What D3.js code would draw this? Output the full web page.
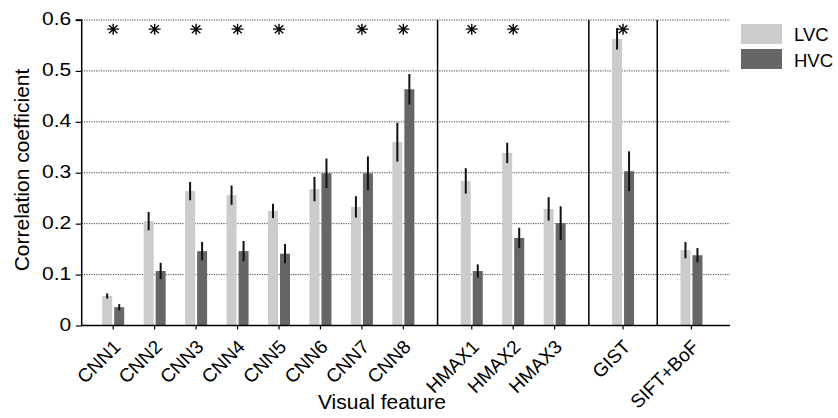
<!DOCTYPE html>
<html>
<head>
<meta charset="utf-8">
<script src="https://cdn.jsdelivr.net/npm/d3@7"></script>
<style>
  html, body { margin: 0; padding: 0; background: #fff; }
  svg { display: block; font-family: "Liberation Sans", Arial, Helvetica, sans-serif; }
</style>
</head>
<body>
<svg id="chart" width="838" height="418"></svg>
<script>
const categories = ["CNN1","CNN2","CNN3","CNN4","CNN5","CNN6","CNN7","CNN8","HMAX1","HMAX2","HMAX3","GIST","SIFT+BoF"];
const groupOf    = [0,0,0,0,0,0,0,0,1,1,1,2,3];
const lvc    = [0.058,0.205,0.264,0.256,0.225,0.268,0.233,0.360,0.284,0.339,0.229,0.563,0.148];
const lvcErr = [0.005,0.018,0.018,0.019,0.014,0.024,0.021,0.038,0.025,0.020,0.023,0.021,0.016];
const hvc    = [0.036,0.107,0.146,0.146,0.141,0.299,0.299,0.464,0.107,0.172,0.201,0.303,0.138];
const hvcErr = [0.006,0.016,0.018,0.020,0.019,0.029,0.033,0.030,0.013,0.020,0.033,0.039,0.014];
const significant = [1,1,1,1,1,0,1,1,1,1,0,1,0];
const yTicks = [0,0.1,0.2,0.3,0.4,0.5,0.6];
const seriesNames = ["LVC","HVC"];
const seriesColors = ["#cccccc","#666666"];

(function () {
const svg = d3.select("#chart");
const pLeft = 81.7, pRight = 730, pTop = 20, pBottom = 325.5;
const groupGap = 0.65;
const pos = categories.map((c,i) => i + groupOf[i]*groupGap);
const stretch = 1.17;

const x = d3.scaleLinear().domain([-0.76, 14.88]).range([pLeft, pRight]);
const y = d3.scaleLinear().domain([0, 0.6]).range([pBottom, pTop]);
const barW = 10, off = 6;

// gridlines
svg.append("g").selectAll("line").data(yTicks.filter(d => d > 0)).join("line")
  .attr("x1", pLeft).attr("x2", pRight)
  .attr("y1", d => y(d)).attr("y2", d => y(d))
  .attr("stroke", "#444").attr("stroke-width", 1).attr("stroke-dasharray", "1.2,1.2");

// group separators
const seps = [];
for (let i = 1; i < categories.length; i++) {
  if (groupOf[i] !== groupOf[i-1]) seps.push((pos[i] + pos[i-1]) / 2);
}
svg.append("g").selectAll("line").data(seps).join("line")
  .attr("x1", d => x(d)).attr("x2", d => x(d))
  .attr("y1", y(0)).attr("y2", y(0.6))
  .attr("stroke", "#000").attr("stroke-width", 1.5);

// bars
const series = [
  {vals: lvc, errs: lvcErr, dx: -off, color: seriesColors[0]},
  {vals: hvc, errs: hvcErr, dx: off, color: seriesColors[1]}
];
series.forEach(s => {
  svg.append("g").selectAll("rect").data(s.vals).join("rect")
    .attr("x", (d,i) => x(pos[i]) + s.dx - barW/2)
    .attr("width", barW)
    .attr("y", d => y(d))
    .attr("height", d => y(0) - y(d))
    .attr("fill", s.color);
});
series.forEach(s => {
  svg.append("g").selectAll("line").data(s.vals).join("line")
    .attr("x1", (d,i) => x(pos[i]) + s.dx)
    .attr("x2", (d,i) => x(pos[i]) + s.dx)
    .attr("y1", (d,i) => y(d - s.errs[i]))
    .attr("y2", (d,i) => y(d + s.errs[i]))
    .attr("stroke", "#111").attr("stroke-width", 2);
});

// asterisks
const starY = y(0.582);
const starPath = "M-6,0H6M0,-5.5V5.5M-4.2,-4L4.2,4M-4.2,4L4.2,-4";
const sigIdx = categories.map((c,i) => i).filter(i => significant[i]);
svg.append("g").selectAll("path").data(sigIdx).join("path")
  .attr("transform", i => `translate(${x(pos[i])},${starY})`)
  .attr("d", starPath)
  .attr("stroke", "#000").attr("stroke-width", 1.4).attr("fill", "none");

// y axis
const yAxis = d3.axisLeft(y).tickValues(yTicks)
  .tickFormat(d => d === 0 ? "0" : d.toFixed(1))
  .tickSize(6).tickPadding(3);
const ya = svg.append("g").attr("transform", `translate(${pLeft},0)`).call(yAxis);
ya.select(".domain").attr("d", `M-6,${y(0.6)}H0V${y(0)}`).attr("stroke", "#000").attr("stroke-width", 1.5);
ya.selectAll(".tick line").attr("stroke", "#000").attr("stroke-width", 1.2);
ya.selectAll(".tick text").attr("font-size", 18).attr("fill", "#000")
  .attr("dy", "0.27em")
  .attr("transform", `scale(${stretch},1)`)
  .attr("font-family", "'Liberation Sans', Arial, sans-serif");

// x axis
const xa = svg.append("g").attr("transform", `translate(0,${pBottom})`);
xa.append("line").attr("x1", pLeft).attr("x2", pRight).attr("y1", 0).attr("y2", 0)
  .attr("stroke", "#000").attr("stroke-width", 1.5);
xa.selectAll("line.tk").data(categories).join("line").attr("class", "tk")
  .attr("x1", (c,i) => x(pos[i])).attr("x2", (c,i) => x(pos[i]))
  .attr("y1", 0).attr("y2", 4).attr("stroke", "#000").attr("stroke-width", 1.2);
xa.selectAll("text").data(categories).join("text")
  .attr("transform", (c,i) => `translate(${x(pos[i]) + 8.5},${22.5}) rotate(-45)`)
  .attr("text-anchor", "end")
  .attr("font-size", 19).attr("fill", "#000")
  .text(d => d);

// axis titles
svg.append("text").attr("x", 382).attr("y", 409).attr("text-anchor", "middle")
  .attr("font-size", 21).attr("fill", "#000").text("Visual feature");
svg.append("text").attr("transform", `translate(28.5,170) rotate(-90)`)
  .attr("text-anchor", "middle").attr("font-size", 21).attr("fill", "#000")
  .text("Correlation coefficient");

// legend
const lg = svg.append("g");
seriesNames.forEach((n,i) => {
  lg.append("rect").attr("x", 741).attr("y", 24 + i*25).attr("width", 41).attr("height", 20)
    .attr("fill", seriesColors[i]);
  lg.append("text").attr("x", 794).attr("y", 41 + i*25.5).attr("font-size", 18.5)
    .attr("fill", "#000").text(n);
});
})();
</script>
</body>
</html>
